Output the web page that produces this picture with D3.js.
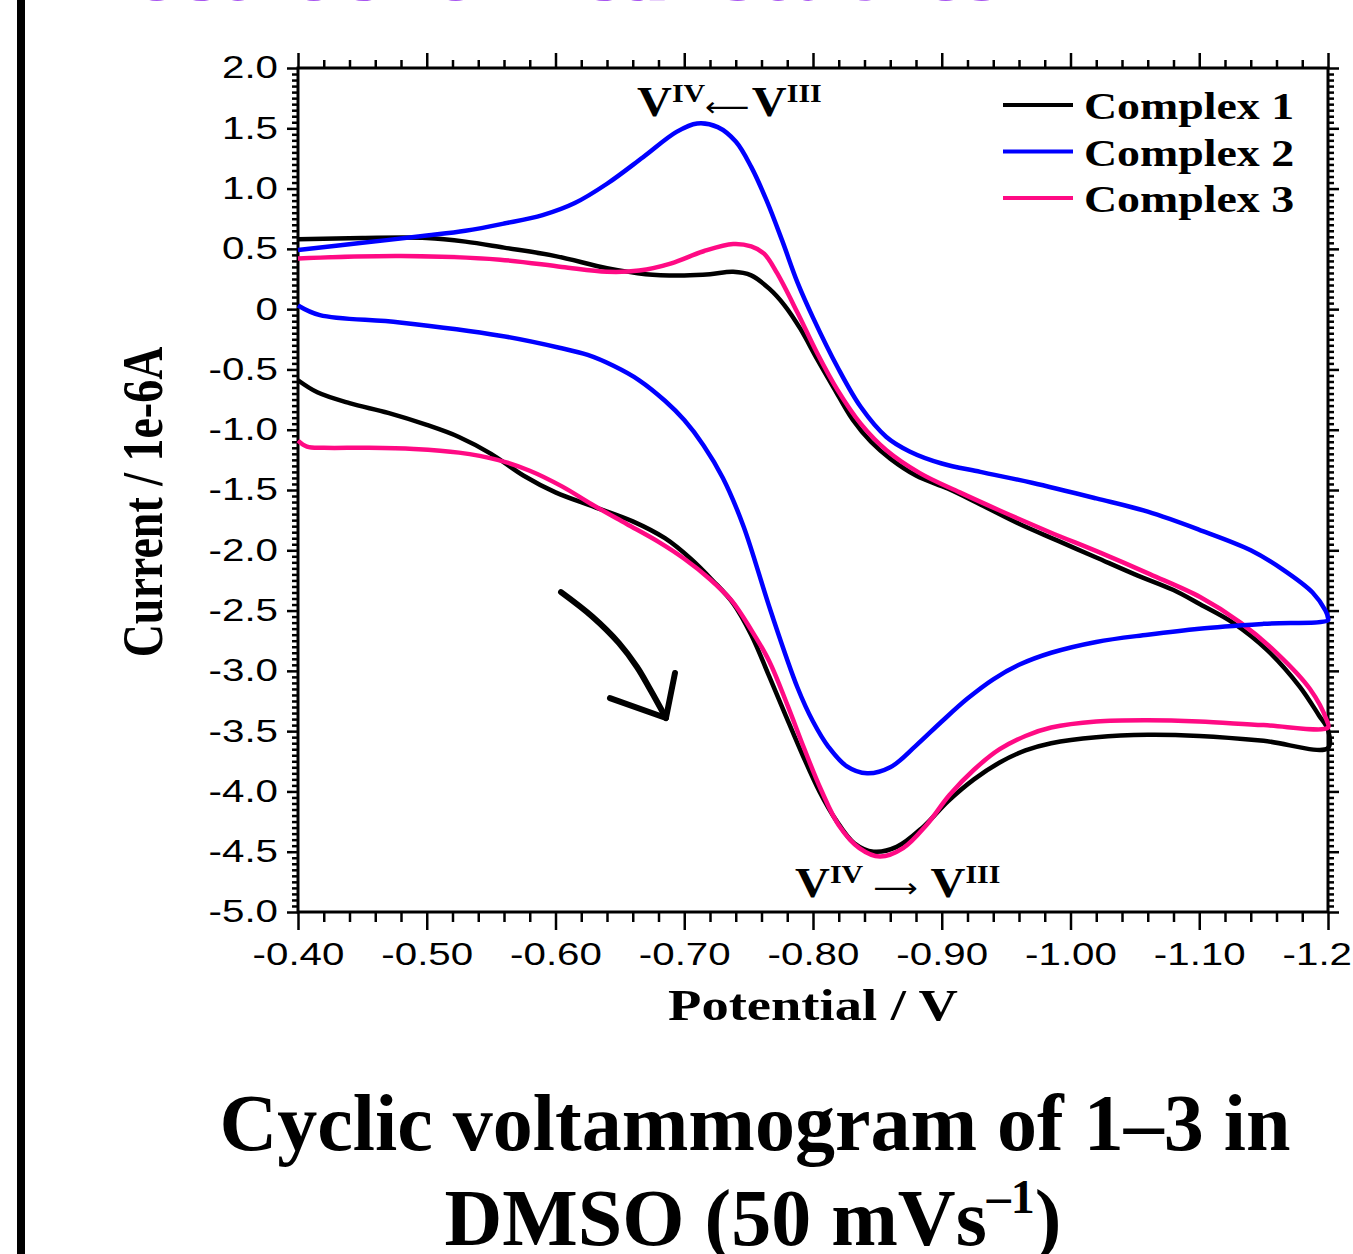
<!DOCTYPE html>
<html>
<head>
<meta charset="utf-8">
<script src="https://cdn.jsdelivr.net/npm/d3@7"></script>
<style>
  body { margin: 0; background: #fff; }
  svg { display: block; }
</style>
</head>
<body>
<div id="chart"></div>
<script>
"use strict"

// potential (V), current (1e-6 A): upper branch left->right, then lower branch back
let complex1 = [
    [-0.400, 0.58], [-0.450, 0.59], [-0.500, 0.59], [-0.530, 0.56], [-0.560, 0.51], [-0.600, 0.44],
    [-0.640, 0.34], [-0.670, 0.29], [-0.700, 0.28], [-0.720, 0.29], [-0.738, 0.31], [-0.752, 0.28],
    [-0.766, 0.17], [-0.778, 0.03], [-0.790, -0.16], [-0.803, -0.41], [-0.816, -0.65], [-0.831, -0.92],
    [-0.845, -1.10], [-0.860, -1.24], [-0.880, -1.38], [-0.905, -1.49], [-0.930, -1.62], [-0.960, -1.78],
    [-0.990, -1.92], [-1.020, -2.06], [-1.050, -2.20], [-1.080, -2.33], [-1.101, -2.45], [-1.126, -2.60],
    [-1.153, -2.83], [-1.178, -3.13], [-1.193, -3.37], [-1.200, -3.49],
    [-1.200, -3.64], [-1.150, -3.58], [-1.100, -3.54], [-1.060, -3.53], [-1.020, -3.55], [-0.985, -3.60],
    [-0.965, -3.66], [-0.945, -3.76], [-0.925, -3.90], [-0.905, -4.08], [-0.885, -4.30], [-0.865, -4.46],
    [-0.847, -4.50], [-0.832, -4.43], [-0.818, -4.24], [-0.805, -4.00], [-0.792, -3.70], [-0.778, -3.35],
    [-0.765, -3.02], [-0.752, -2.70], [-0.738, -2.44], [-0.722, -2.25], [-0.705, -2.07], [-0.685, -1.90],
    [-0.660, -1.76], [-0.630, -1.64], [-0.600, -1.52], [-0.575, -1.38], [-0.550, -1.20], [-0.525, -1.06],
    [-0.500, -0.96], [-0.470, -0.86], [-0.440, -0.78], [-0.415, -0.69], [-0.400, -0.59]
];

let complex2 = [
    [-0.400, 0.49], [-0.450, 0.55], [-0.500, 0.61], [-0.530, 0.65], [-0.560, 0.71], [-0.590, 0.78],
    [-0.615, 0.88], [-0.640, 1.04], [-0.668, 1.26], [-0.694, 1.47], [-0.710, 1.54], [-0.726, 1.51],
    [-0.740, 1.39], [-0.752, 1.18], [-0.764, 0.90], [-0.776, 0.57], [-0.788, 0.22], [-0.800, -0.07],
    [-0.819, -0.48], [-0.837, -0.81], [-0.857, -1.06], [-0.875, -1.18], [-0.900, -1.28], [-0.930, -1.35],
    [-0.970, -1.44], [-1.020, -1.57], [-1.060, -1.68], [-1.100, -1.83], [-1.140, -2.00], [-1.165, -2.16],
    [-1.188, -2.35], [-1.198, -2.50], [-1.200, -2.56],
    [-1.200, -2.58], [-1.150, -2.61], [-1.100, -2.65], [-1.060, -2.70], [-1.020, -2.76], [-0.985, -2.85],
    [-0.960, -2.95], [-0.940, -3.07], [-0.920, -3.23], [-0.900, -3.42], [-0.880, -3.62], [-0.860, -3.80],
    [-0.842, -3.85], [-0.826, -3.79], [-0.812, -3.63], [-0.800, -3.42], [-0.788, -3.14], [-0.767, -2.50],
    [-0.746, -1.80], [-0.730, -1.40], [-0.715, -1.13], [-0.700, -0.92], [-0.685, -0.76], [-0.665, -0.59],
    [-0.645, -0.47], [-0.625, -0.38], [-0.603, -0.32], [-0.557, -0.22], [-0.479, -0.11], [-0.417, -0.05],
    [-0.400, 0.03]
];

let complex3 = [
    [-0.400, 0.42], [-0.480, 0.44], [-0.557, 0.41], [-0.605, 0.35], [-0.640, 0.31], [-0.665, 0.32],
    [-0.690, 0.38], [-0.715, 0.48], [-0.738, 0.54], [-0.752, 0.52], [-0.762, 0.46], [-0.772, 0.30],
    [-0.788, -0.03], [-0.803, -0.36], [-0.819, -0.67], [-0.837, -0.95], [-0.857, -1.17], [-0.883, -1.36],
    [-0.914, -1.52], [-0.945, -1.67], [-0.984, -1.85], [-1.023, -2.02], [-1.062, -2.20], [-1.101, -2.39],
    [-1.132, -2.60], [-1.160, -2.85], [-1.186, -3.15], [-1.199, -3.41],
    [-1.200, -3.47], [-1.150, -3.45], [-1.100, -3.42], [-1.060, -3.41], [-1.020, -3.42], [-0.985, -3.47],
    [-0.965, -3.54], [-0.945, -3.65], [-0.925, -3.82], [-0.906, -4.03], [-0.888, -4.28], [-0.870, -4.47],
    [-0.852, -4.54], [-0.836, -4.47], [-0.820, -4.28], [-0.806, -3.98], [-0.793, -3.64], [-0.780, -3.28],
    [-0.766, -2.92], [-0.752, -2.66], [-0.737, -2.42], [-0.720, -2.24], [-0.700, -2.07], [-0.680, -1.93],
    [-0.655, -1.78], [-0.630, -1.63], [-0.605, -1.47], [-0.580, -1.34], [-0.555, -1.25], [-0.525, -1.19],
    [-0.490, -1.16], [-0.455, -1.15], [-0.420, -1.15], [-0.407, -1.14], [-0.400, -1.09]
];

let seriesNames = ["Complex 1", "Complex 2", "Complex 3"];
let seriesColors = ["#000000", "#0000ff", "#ff0a84"];

let xTicks = [-0.4, -0.5, -0.6, -0.7, -0.8, -0.9, -1.0, -1.1, -1.2];
let yTicks = [2.0, 1.5, 1.0, 0.5, 0, -0.5, -1.0, -1.5, -2.0, -2.5, -3.0, -3.5, -4.0, -4.5, -5.0];

// scan direction arrow (hand drawn), in data units
let scanArrow = [[-0.6043, -2.347], [-0.6287, -2.551], [-0.6493, -2.770], [-0.6633, -2.968], [-0.6738, -3.159], [-0.6858, -3.391]];
let scanHead = [[-0.6423, -3.226], [-0.6858, -3.391], [-0.6928, -3.018]];

var width = 1353, height = 1254;
var plotLeft = 298, plotRight = 1328, plotTop = 68, plotBottom = 912;
var stretch = 1.3;   // the chart image is a bit wider than tall

var svg = d3.select("#chart").append("svg")
    .attr("width", width)
    .attr("height", height);

// page bits around the figure
svg.append("rect").attr("x", 17).attr("y", 0).attr("width", 8).attr("height", height).attr("fill", "#000");
svg.append("text")
    .attr("x", 45).attr("y", 0)
    .attr("textLength", 955)
    .style("font-family", "Liberation Serif").style("font-weight", "bold").style("font-size", "88px")
    .attr("fill", "#a855f0")
    .text("Electrochemical studies");

var x = d3.scaleLinear().domain([-0.4, -1.2]).range([plotLeft, plotRight]);
var y = d3.scaleLinear().domain([-5, 2]).range([plotBottom, plotTop]);

var xMinor = d3.range(-60, -19).map(function (i) { return i / 50; }).filter(function (v) { return Math.abs(v * 10 - Math.round(v * 10)) > 1e-6; });
var yMinor = d3.range(-100, 41).map(function (i) { return i / 20; }).filter(function (v) { return Math.abs(v * 2 - Math.round(v * 2)) > 1e-6; });

function styleAxis(g) {
    g.select(".domain").remove();
    g.selectAll("line").attr("stroke", "#000").attr("stroke-width", 2.5);
}

// bottom
svg.append("g").attr("transform", "translate(0," + plotBottom + ")")
    .call(d3.axisBottom(x).tickValues(xTicks).tickSize(18).tickPadding(13).tickFormat(function (d) { return d.toFixed(2); }))
    .call(styleAxis)
    .call(function (g) {
        g.selectAll("text")
            .style("font-family", "Liberation Sans").style("font-size", "31px").attr("fill", "#000")
            .attr("transform", "scale(" + stretch + ",1)");
    });
svg.append("g").attr("transform", "translate(0," + plotBottom + ")")
    .call(d3.axisBottom(x).tickValues(xMinor).tickSize(10).tickFormat(""))
    .call(styleAxis);

// top
svg.append("g").attr("transform", "translate(0," + plotTop + ")")
    .call(d3.axisTop(x).tickValues(xTicks).tickSize(15).tickFormat(""))
    .call(styleAxis);
svg.append("g").attr("transform", "translate(0," + plotTop + ")")
    .call(d3.axisTop(x).tickValues(xMinor).tickSize(8).tickFormat(""))
    .call(styleAxis);

// left
svg.append("g").attr("transform", "translate(" + plotLeft + ",0)")
    .call(d3.axisLeft(y).tickValues(yTicks).tickSize(11).tickPadding(9).tickFormat(function (d) { return d === 0 ? "0" : d.toFixed(1); }))
    .call(styleAxis)
    .call(function (g) {
        g.selectAll("text")
            .style("font-family", "Liberation Sans").style("font-size", "31px").attr("fill", "#000")
            .attr("x", 0)
            .attr("transform", "translate(-20,0) scale(" + stretch + ",1)");
    });
svg.append("g").attr("transform", "translate(" + plotLeft + ",0)")
    .call(d3.axisLeft(y).tickValues(yMinor).tickSize(6).tickFormat(""))
    .call(styleAxis);

// right
svg.append("g").attr("transform", "translate(" + plotRight + ",0)")
    .call(d3.axisRight(y).tickValues(yTicks).tickSize(11).tickFormat(""))
    .call(styleAxis);
svg.append("g").attr("transform", "translate(" + plotRight + ",0)")
    .call(d3.axisRight(y).tickValues(yMinor).tickSize(6).tickFormat(""))
    .call(styleAxis);

// frame
svg.append("rect")
    .attr("x", plotLeft).attr("y", plotTop)
    .attr("width", plotRight - plotLeft).attr("height", plotBottom - plotTop)
    .attr("fill", "none").attr("stroke", "#000").attr("stroke-width", 3);

// curves
var line = d3.line()
    .x(function (d) { return x(d[0]); })
    .y(function (d) { return y(d[1]); })
    .curve(d3.curveCatmullRom.alpha(0.5));

[complex1, complex3, complex2].forEach(function (data, i) {
    var idx = [0, 2, 1][i];
    svg.append("path")
        .datum(data)
        .attr("d", line)
        .attr("fill", "none")
        .attr("stroke", seriesColors[idx])
        .attr("stroke-width", 4.5)
        .attr("stroke-linejoin", "round");
});

// scan arrow
svg.append("path").datum(scanArrow).attr("d", line)
    .attr("fill", "none").attr("stroke", "#000").attr("stroke-width", 6).attr("stroke-linecap", "round");
svg.append("path").datum(scanHead).attr("d", d3.line().x(function (d) { return x(d[0]); }).y(function (d) { return y(d[1]); }))
    .attr("fill", "none").attr("stroke", "#000").attr("stroke-width", 6)
    .attr("stroke-linecap", "round").attr("stroke-linejoin", "round");

// legend
var legend = svg.append("g");
seriesNames.forEach(function (name, i) {
    var ly = 105 + i * 46.5;
    legend.append("line")
        .attr("x1", 1003).attr("x2", 1073).attr("y1", ly).attr("y2", ly)
        .attr("stroke", seriesColors[i]).attr("stroke-width", 4);
    legend.append("text")
        .attr("transform", "translate(1084," + (ly + 14) + ") scale(1.24,1)")
        .style("font-family", "Liberation Serif").style("font-weight", "bold").style("font-size", "37px")
        .text(name);
});

// peak annotations
function redox(xPos, yPos, arrow, gap) {
    var t = svg.append("text")
        .attr("transform", "translate(" + xPos + "," + yPos + ") scale(1.15,1)")
        .style("font-family", "Liberation Serif").style("font-weight", "bold").style("font-size", "42px");
    t.append("tspan").text("V");
    t.append("tspan").attr("dy", -14).style("font-size", "26px").text("IV");
    t.append("tspan").attr("dy", 14).attr("dx", gap)
        .style("font-family", "DejaVu Sans").style("font-weight", "normal").style("font-size", "27px")
        .text(arrow);
    t.append("tspan").attr("dx", gap + 2).text("V");
    t.append("tspan").attr("dy", -14).style("font-size", "26px").text("III");
}
redox(637, 116, "⟵", 0);
redox(795, 897, "⟶", 9);

// axis titles
svg.append("text")
    .attr("transform", "translate(813,1020) scale(1.24,1)")
    .attr("text-anchor", "middle")
    .style("font-family", "Liberation Serif").style("font-weight", "bold").style("font-size", "44px")
    .text("Potential / V");
svg.append("text")
    .attr("transform", "translate(162,502) scale(1.24,1) rotate(-90)")
    .attr("text-anchor", "middle")
    .style("font-family", "Liberation Serif").style("font-weight", "bold").style("font-size", "46px")
    .text("Current / 1e-6A");

// caption
svg.append("text")
    .attr("x", 755).attr("y", 1150)
    .attr("text-anchor", "middle")
    .style("font-family", "Liberation Serif").style("font-weight", "bold").style("font-size", "80px")
    .text("Cyclic voltammogram of 1–3 in");
var cap2 = svg.append("text")
    .attr("x", 753).attr("y", 1245)
    .attr("text-anchor", "middle")
    .style("font-family", "Liberation Serif").style("font-weight", "bold").style("font-size", "80px");
cap2.append("tspan").text("DMSO (50 mVs");
cap2.append("tspan").attr("dy", -32).style("font-size", "48px").text("–1");
cap2.append("tspan").attr("dy", 32).text(")");
</script>
</body>
</html>
